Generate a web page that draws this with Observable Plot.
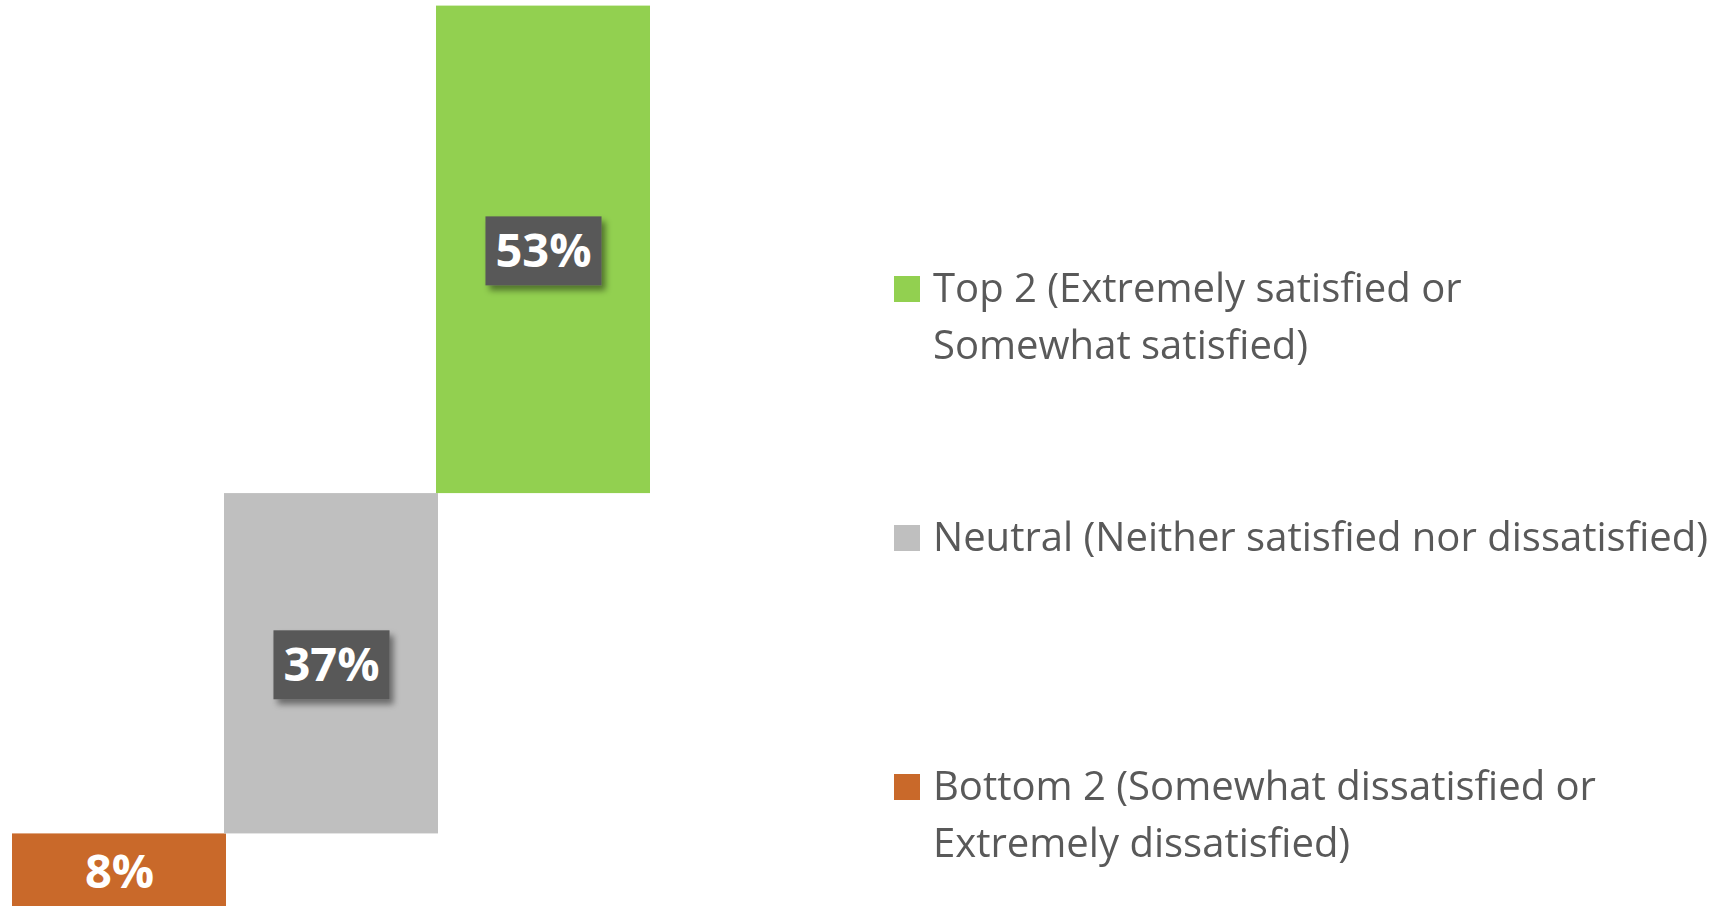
<!DOCTYPE html>
<html><head><meta charset="utf-8">
<script src="https://cdn.jsdelivr.net/npm/d3@7"></script>
<script src="https://cdn.jsdelivr.net/npm/@observablehq/plot@0.6"></script>
<style>
html,body{margin:0;padding:0;background:#fff;overflow:hidden;width:1716px;height:906px;}
#chart{position:absolute;left:0;top:0;}
#legend{position:absolute;left:894px;top:258px;font-family:"Open Sans",sans-serif;font-size:40px;line-height:57px;color:#595959;}
.item{position:relative;height:249px;}
.sw{position:absolute;left:0;top:18px;width:26px;height:26px;}
.tx{position:absolute;left:39px;top:0;white-space:pre;transform-origin:0 0;}
</style></head><body>
<div id="chart"></div><div id="legend"></div>
<script>
const categories = ["Bottom 2", "Neutral", "Top 2"];
const values = [8, 37, 53];
const colors = ["#C9692A", "#BFBFBF", "#92D050"];
const legendLabels = [
  "Bottom 2 (Somewhat dissatisfied or\nExtremely dissatisfied)",
  "Neutral (Neither satisfied nor dissatisfied)",
  "Top 2 (Extremely satisfied or\nSomewhat satisfied)"
];
const boxed = [false, true, true];

const ends = d3.cumsum(values);
const rows = categories.map((c, i) => ({
  cat: c, value: values[i],
  y1: ends[i] - values[i], y2: ends[i], mid: ends[i] - values[i] / 2,
  color: colors[i], label: values[i] + "%", boxed: boxed[i]
}));

const plot = Plot.plot({
  width: 700, height: 906,
  style: {background: "transparent", overflow: "hidden"},
  x: {type: "band", domain: categories, range: [13, 649], padding: 0, axis: null},
  y: {domain: [0, 98], range: [907, 5.6], axis: null},
  color: {type: "identity"},
  marks: [
    Plot.barY(rows, {x: "cat", y1: "y1", y2: "y2", fill: "color", insetLeft: -1, insetRight: -1}),
    Plot.text(rows, {x: "cat", y: "mid", dy: 2, text: "label", fill: "white", fontSize: 47, fontWeight: "bold", fontFamily: "Open Sans"})
  ]
});
document.getElementById("chart").appendChild(plot);

// label boxes with shadow
const ns = "http://www.w3.org/2000/svg";
const defs = document.createElementNS(ns, "defs");
defs.innerHTML = '<filter id="sh" x="-30%" y="-30%" width="160%" height="160%"><feDropShadow dx="4" dy="5" stdDeviation="3" flood-color="#000" flood-opacity="0.45"/></filter>';
plot.insertBefore(defs, plot.firstChild);
const texts = plot.querySelectorAll('g[aria-label="text"] text');
texts.forEach((t, i) => {
  if (!rows[i].boxed) return;
  const b = t.getBBox();
  const r = document.createElementNS(ns, "rect");
  const cy = b.y + b.height / 2 + 2;
  r.setAttribute("x", b.x - 10);
  r.setAttribute("width", b.width + 20);
  r.setAttribute("y", cy - 34.5);
  r.setAttribute("height", 69);
  r.setAttribute("fill", "#595959");
  r.setAttribute("filter", "url(#sh)");
  const tr = t.getAttribute("transform");
  if (tr) r.setAttribute("transform", tr);
  t.parentNode.insertBefore(r, t);
});

// legend (reversed order)
const legend = document.getElementById("legend");
const order = [2, 1, 0];
const txEls = [];
order.forEach(i => {
  const item = document.createElement("div");
  item.className = "item";
  const sw = document.createElement("div");
  sw.className = "sw"; sw.style.background = colors[i];
  const tx = document.createElement("div");
  tx.className = "tx"; tx.textContent = legendLabels[i];
  item.appendChild(sw); item.appendChild(tx);
  legend.appendChild(item);
  txEls.push(tx);
});
const w = txEls[1].getBoundingClientRect().width;
const k = 775 / w;
txEls.forEach(t => t.style.transform = `scaleX(${k})`);
</script>
</body></html>
